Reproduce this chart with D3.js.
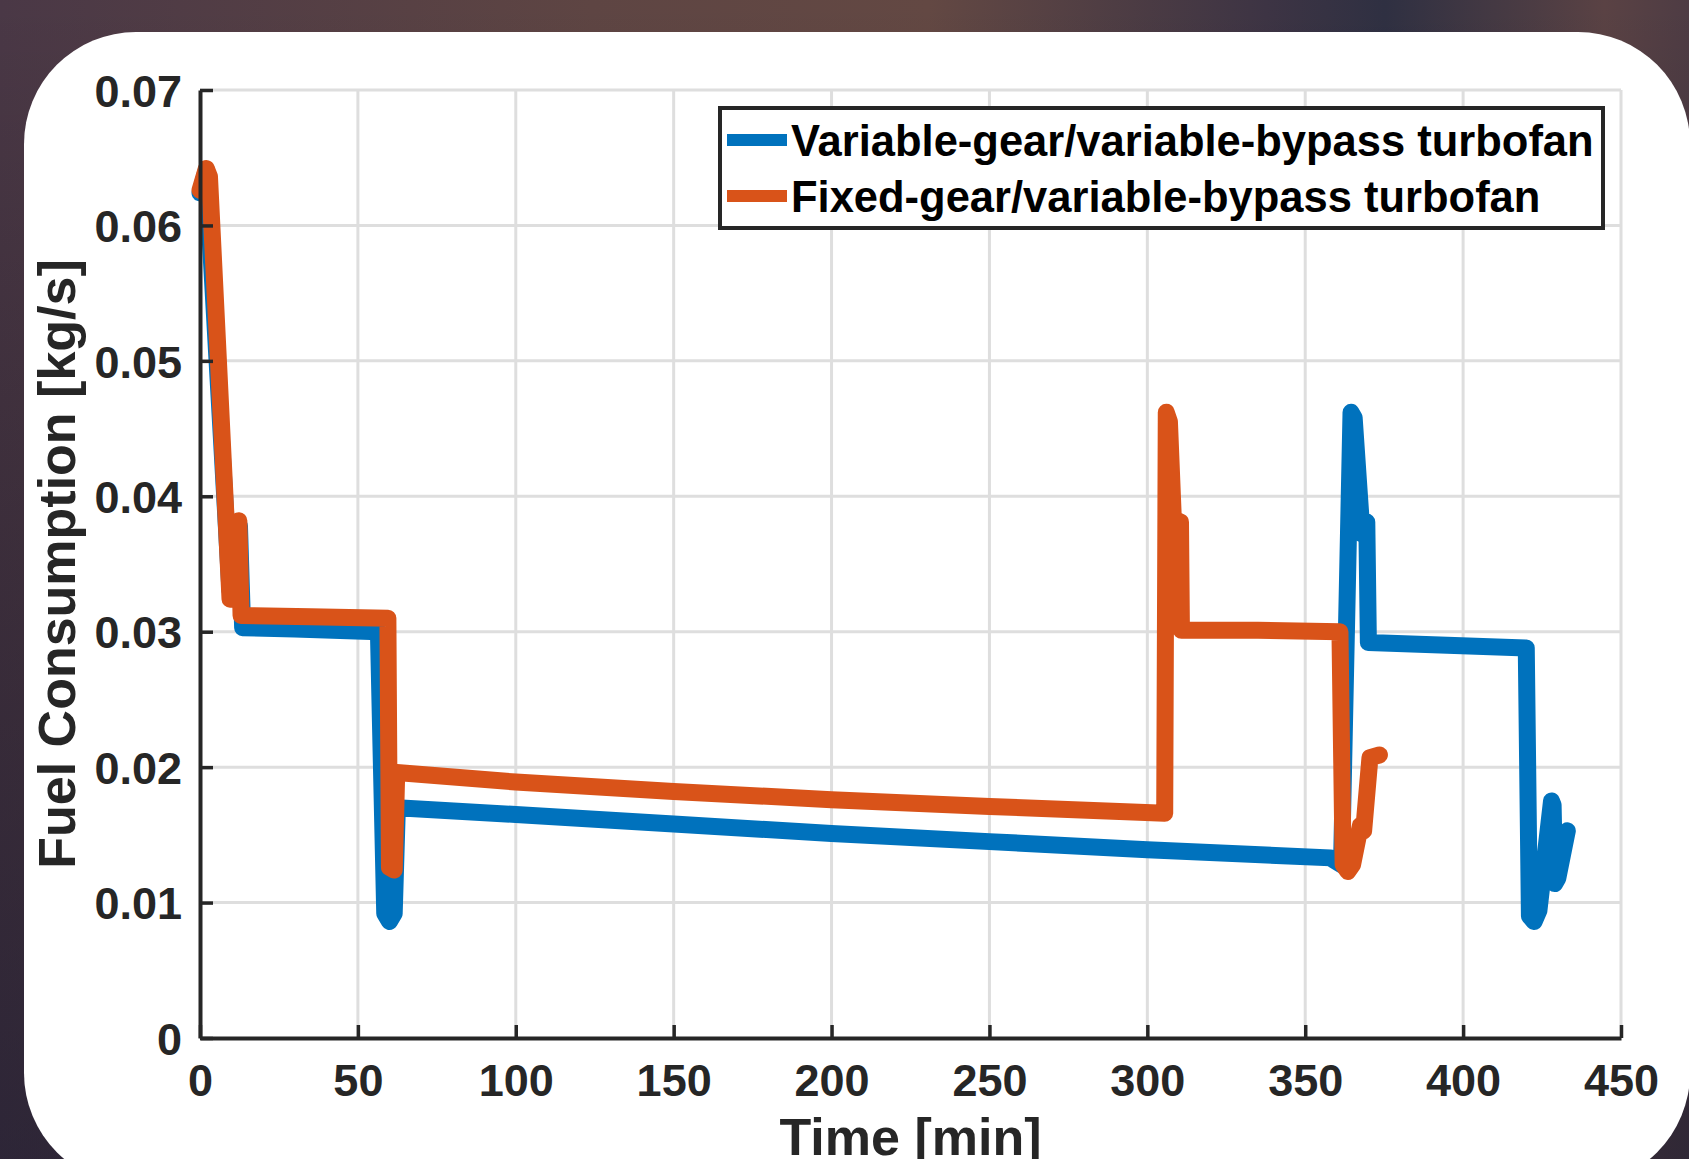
<!DOCTYPE html>
<html>
<head>
<meta charset="utf-8">
<script src="https://cdn.jsdelivr.net/npm/d3@7"></script>
<style>
  body { margin: 0; overflow: hidden; }
  text { font-family: "Liberation Sans", Arial, sans-serif; font-weight: bold; fill: #262626; }
</style>
</head>
<body>
<div id="my_dataviz"></div>
<script>

// series: variable-gear / variable-bypass turbofan
var timeVG = [0, 2, 9.5, 11, 12.5, 13.5, 30, 56.5, 58.5, 60, 61.5, 62.5, 100, 150, 200, 250, 300, 358,
    361.5, 364.5, 365.5, 368, 369, 369.5, 370, 395, 420, 421, 422.5, 424, 428, 428.5, 429, 430, 433];
var fuelVG = [0.0624, 0.0641, 0.0330, 0.0330, 0.0378, 0.0303, 0.0302, 0.0300, 0.0092, 0.0086, 0.0092, 0.0170,
    0.0165, 0.0158, 0.0151, 0.0145, 0.0139, 0.0133, 0.0128, 0.0462, 0.0458, 0.0372, 0.0381, 0.0381, 0.0292,
    0.0290, 0.0288, 0.0090, 0.0086, 0.0094, 0.0175, 0.0172, 0.0114, 0.0118, 0.0153];

// series: fixed-gear / variable-bypass turbofan
var timeFG = [0, 2, 3, 9.5, 11, 12.3, 13, 35, 59.5, 60, 61.5, 62.3, 100, 150, 200, 250, 305.5, 306, 307,
    308.5, 309.5, 310.5, 310.8, 335, 361, 362, 363.5, 365, 367.5, 368.5, 370.5, 373.5];
var fuelFG = [0.0626, 0.0642, 0.0636, 0.0324, 0.0324, 0.0382, 0.0312, 0.0311, 0.0310, 0.0126, 0.0124, 0.0196,
    0.0189, 0.0182, 0.0176, 0.0171, 0.0166, 0.0462, 0.0455, 0.0368, 0.0382, 0.0381, 0.0301, 0.0301, 0.0300,
    0.0128, 0.0123, 0.0128, 0.0157, 0.0153, 0.0207, 0.0209];

var seriesNames = ["Variable-gear/variable-bypass turbofan", "Fixed-gear/variable-bypass turbofan"];
var seriesColors = ["#0072BD", "#D95319"];

var xTicks = [0, 50, 100, 150, 200, 250, 300, 350, 400, 450];
var yTicks = [0, 0.01, 0.02, 0.03, 0.04, 0.05, 0.06, 0.07];
var yTickLabels = ["0", "0.01", "0.02", "0.03", "0.04", "0.05", "0.06", "0.07"];

function plot(){

    document.getElementById("my_dataviz").innerHTML = '';

    var W = 1689, H = 1159;
    var margin = {top: 90, right: 68, bottom: 121, left: 200},
    width = W - margin.left - margin.right,
    height = H - margin.top - margin.bottom;

    var root = d3.select("#my_dataviz")
        .append("svg")
            .attr("width", W)
            .attr("height", H);

    // dark photo background
    var defs = root.append("defs");
    var grad = defs.append("linearGradient")
        .attr("id", "bg")
        .attr("x1", "0%").attr("y1", "0%").attr("x2", "100%").attr("y2", "0%");
    [["0%", "#4a3846"], ["35%", "#5e4543"], ["55%", "#634843"], ["75%", "#3d3444"],
     ["82%", "#2f3042"], ["95%", "#5a4244"], ["100%", "#4e3c44"]].forEach(function(s){
        grad.append("stop").attr("offset", s[0]).attr("stop-color", s[1]);
    });
    var shade = defs.append("linearGradient")
        .attr("id", "shade")
        .attr("x1", "0%").attr("y1", "0%").attr("x2", "0%").attr("y2", "100%");
    shade.append("stop").attr("offset", "0%").attr("stop-color", "#000").attr("stop-opacity", 0);
    shade.append("stop").attr("offset", "100%").attr("stop-color", "#0a0f25").attr("stop-opacity", 0.45);

    root.append("rect").attr("width", W).attr("height", H).attr("fill", "url(#bg)");
    root.append("rect").attr("width", W).attr("height", H).attr("fill", "url(#shade)");

    // white card
    root.append("rect")
        .attr("x", 24).attr("y", 32)
        .attr("width", 1666).attr("height", 1153)
        .attr("rx", 112).attr("ry", 112)
        .attr("fill", "#ffffff");

    var svg = root.append("g")
        .attr("transform", "translate(" + margin.left + "," + margin.top + ")");

    var xScale = d3.scaleLinear()
        .domain([0, 450])
        .range([0, width]);

    var yScale = d3.scaleLinear()
        .domain([0, 0.07])
        .range([height, 0]);

    // grid
    svg.append("g")
        .selectAll("line.vg")
        .data(xTicks.slice(1))
        .enter()
            .append("line")
                .attr("x1", function(d){ return xScale(d); })
                .attr("x2", function(d){ return xScale(d); })
                .attr("y1", 0)
                .attr("y2", height)
                .attr("stroke", "#dedede")
                .attr("stroke-width", 3);
    svg.append("g")
        .selectAll("line.hg")
        .data(yTicks.slice(1))
        .enter()
            .append("line")
                .attr("x1", 0)
                .attr("x2", width)
                .attr("y1", function(d){ return yScale(d); })
                .attr("y2", function(d){ return yScale(d); })
                .attr("stroke", "#dedede")
                .attr("stroke-width", 3);

    // lines
    var line = d3.line()
        .x(function(d) { return xScale(d[0]); })
        .y(function(d) { return yScale(d[1]); });

    var dataVG = d3.zip(timeVG, fuelVG);
    var dataFG = d3.zip(timeFG, fuelFG);

    [dataVG, dataFG].forEach(function(data, i){
        svg.append("path")
            .datum(data)
            .attr("fill", "none")
            .attr("stroke", seriesColors[i])
            .attr("stroke-width", 17)
            .attr("stroke-linejoin", "round")
            .attr("stroke-linecap", "round")
            .attr("d", line);
    });

    // axes (ticks inward, MATLAB style)
    var xAxis = svg.append("g")
        .attr("transform", "translate(0," + height + ")")
        .call(d3.axisBottom(xScale).tickValues(xTicks).tickSizeInner(-13).tickSizeOuter(0).tickPadding(26));
    var yAxis = svg.append("g")
        .call(d3.axisLeft(yScale).tickValues(yTicks).tickSizeInner(-13).tickSizeOuter(0).tickPadding(18)
            .tickFormat(function(d, i){ return yTickLabels[i]; }));

    [xAxis, yAxis].forEach(function(ax){
        ax.select(".domain").attr("stroke", "#262626").attr("stroke-width", 4);
        ax.selectAll(".tick line").attr("stroke", "#262626").attr("stroke-width", 3.5);
        ax.selectAll(".tick text")
            .style("font-family", "'Liberation Sans', Arial, sans-serif")
            .style("font-weight", "bold")
            .style("font-size", "45px")
            .attr("fill", "#262626");
    });
    yAxis.selectAll(".tick text").attr("dy", "0.36em");
    xAxis.selectAll(".tick text").attr("dy", "0.72em");

    // axis titles
    svg.append("text")
        .attr("x", width / 2)
        .attr("y", height + 117)
        .attr("text-anchor", "middle")
        .style("font-size", "52px")
        .text("Time [min]");

    svg.append("text")
        .attr("transform", "translate(" + (-125) + "," + (height / 2) + ") rotate(-90)")
        .attr("text-anchor", "middle")
        .style("font-size", "52px")
        .text("Fuel Consumption [kg/s]");

    // legend
    var lg = svg.append("g")
        .attr("transform", "translate(" + (720 - margin.left) + "," + (108 - margin.top) + ")");
    lg.append("rect")
        .attr("width", 883).attr("height", 120)
        .attr("fill", "#ffffff")
        .attr("stroke", "#262626")
        .attr("stroke-width", 4);
    seriesNames.forEach(function(name, i){
        var row = lg.append("g").attr("transform", "translate(0," + (32 + i * 56) + ")");
        row.append("line")
            .attr("x1", 7).attr("x2", 67)
            .attr("stroke", seriesColors[i])
            .attr("stroke-width", 12);
        row.append("text")
            .attr("x", 71)
            .attr("dy", "0.36em")
            .style("font-size", "43.5px")
            .style("fill", "#000")
            .text(name);
    });
}

window.addEventListener("load", plot);
</script>
</body>
</html>
